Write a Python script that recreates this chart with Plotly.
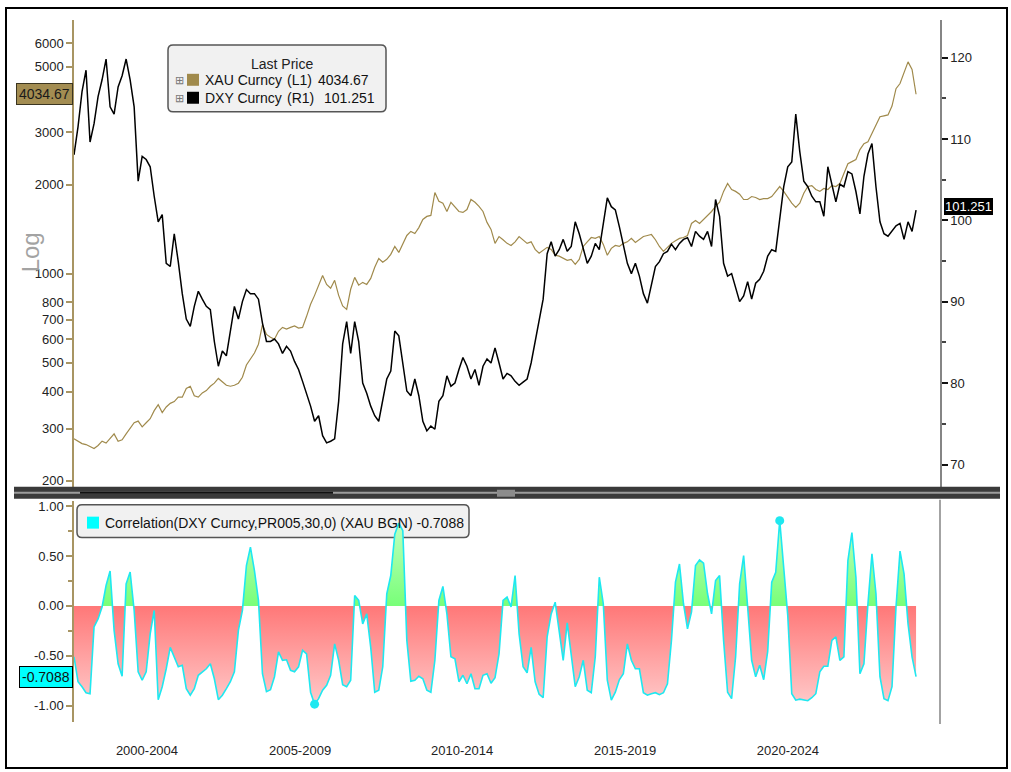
import numpy as np
import pandas as pd
import plotly.graph_objects as go

W, H = 1011, 772


def px(x):
    return x / W


def py(y):
    return 1 - y / H


# ---------------- data ----------------
dates = pd.date_range("2000-06-28", "2026-05-26", periods=211)

xau = [
    277, 272, 267, 265, 261, 257, 263, 272, 268, 279,
    288, 272, 275, 288, 300, 314, 318, 304, 314, 324,
    345, 361, 340, 355, 365, 370, 383, 383, 410, 417,
    387, 383, 396, 403, 417, 427, 443, 430, 420, 417,
    420, 427, 447, 492, 516, 540, 578, 673, 624, 610,
    601, 639, 659, 650, 659, 666, 655, 659, 718, 789,
    845, 920, 986, 920, 893, 950, 845, 778, 758, 886,
    972, 915, 935, 920, 964, 1051, 1125, 1093, 1118, 1162,
    1236, 1180, 1266, 1346, 1389, 1367, 1431, 1524, 1561, 1573,
    1880, 1755, 1730, 1622, 1742, 1675, 1622, 1610, 1647, 1780,
    1742, 1688, 1622, 1490, 1411, 1266, 1335, 1302, 1266, 1245,
    1281, 1335, 1302, 1266, 1281, 1208, 1172, 1199, 1227, 1208,
    1154, 1146, 1125, 1109, 1118, 1075, 1118, 1236, 1281, 1325,
    1316, 1335, 1256, 1154, 1218, 1245, 1236, 1266, 1281, 1316,
    1275, 1302, 1335, 1346, 1356, 1302, 1236, 1190, 1227, 1266,
    1292, 1316, 1325, 1346, 1478, 1512, 1478, 1524, 1561, 1622,
    1688, 1742, 1896, 2016, 1924, 1896, 1856, 1780, 1780, 1822,
    1809, 1780, 1793, 1793, 1822, 1896, 1969, 1896, 1809, 1730,
    1675, 1730, 1868, 1969, 1984, 1924, 1896, 1939, 1924, 1984,
    1969, 2016, 2178, 2352, 2390, 2428, 2624, 2748, 2789, 2968,
    3185, 3387, 3411, 3436, 3681, 4214, 4385, 4806, 5190, 4892, 4034.67,
]

dxy = [
    108.06, 111.50, 115.81, 118.46, 109.63, 111.89, 115.22, 117.28, 119.83, 113.95,
    113.06, 116.40, 117.77, 119.83, 117.28, 113.95, 104.83, 107.87, 107.48, 106.59,
    102.97, 99.83, 100.71, 94.73, 94.34, 98.36, 94.93, 91.00, 87.87, 86.99,
    89.44, 91.30, 90.32, 89.44, 89.04, 85.12, 82.08, 83.95, 83.36, 86.40,
    89.44, 87.87, 90.02, 91.50, 91.00, 91.00, 90.32, 87.38, 85.12, 85.12,
    85.42, 84.83, 83.65, 84.53, 83.95, 82.67, 81.69, 80.22, 78.75, 77.18,
    75.32, 76.00, 73.55, 72.67, 72.87, 73.16, 77.77, 84.83, 87.57, 83.65,
    87.57, 85.12, 80.02, 78.75, 77.18, 76.00, 75.32, 78.06, 80.51, 81.50,
    86.40, 85.81, 82.48, 79.04, 78.46, 80.51, 78.46, 75.32, 74.14, 74.73,
    74.34, 77.77, 78.46, 80.91, 79.63, 80.02, 81.69, 83.16, 82.08, 80.51,
    81.69, 79.73, 82.08, 82.97, 82.48, 84.34, 82.48, 80.51, 81.20, 80.91,
    80.22, 79.73, 80.12, 80.51, 82.48, 85.12, 87.57, 90.32, 95.91, 97.38,
    95.61, 96.40, 97.67, 96.20, 96.79, 99.83, 98.36, 96.40, 94.73, 95.61,
    97.18, 96.40, 99.63, 102.77, 101.69, 101.30, 99.24, 96.79, 94.73, 93.46,
    94.73, 93.16, 91.00, 89.83, 92.28, 94.34, 94.93, 95.91, 96.20, 97.08,
    96.40, 97.18, 97.67, 97.87, 96.79, 98.65, 98.06, 97.67, 98.65, 96.79,
    102.57, 100.51, 94.73, 93.16, 93.46, 91.89, 90.02, 90.71, 92.48, 90.32,
    92.28, 92.77, 93.75, 95.61, 96.40, 96.20, 100.51, 104.14, 106.59, 107.18,
    113.06, 108.46, 104.83, 104.14, 102.97, 102.28, 102.28, 100.51, 106.59, 104.53,
    102.28, 104.44, 104.14, 106.00, 105.71, 103.55, 100.81, 105.42, 108.16, 109.44,
    104.14, 99.83, 98.36, 98.06, 98.65, 99.34, 99.63, 97.67, 99.83, 98.65, 101.251,
]

corr = [
    -0.51, -0.76, -0.81, -0.87, -0.88, -0.21, -0.13, -0.01, 0.205, 0.35,
    -0.245, -0.58, -0.705, 0.22, 0.34, -0.045, -0.66, -0.745, -0.66, -0.28,
    -0.045, -0.94, -0.81, -0.63, -0.415, -0.51, -0.61, -0.595, -0.83, -0.895,
    -0.83, -0.695, -0.66, -0.63, -0.58, -0.73, -0.94, -0.895, -0.83, -0.76,
    -0.66, -0.245, -0.045, 0.405, 0.59, 0.355, 0.055, -0.68, -0.86, -0.84,
    -0.71, -0.46, -0.545, -0.54, -0.645, -0.66, -0.61, -0.445, -0.48, -0.865,
    -0.985, -0.93, -0.845, -0.795, -0.695, -0.38, -0.545, -0.79, -0.81, -0.745,
    0.105, 0.055, -0.18, -0.08, -0.415, -0.865, -0.845, -0.61, 0.12, 0.305,
    0.72, 0.83, 0.755, -0.345, -0.755, -0.745, -0.705, -0.73, -0.845, -0.865,
    -0.545, 0.055, 0.195, -0.08, -0.51, -0.53, -0.76, -0.695, -0.78, -0.68,
    -0.83, -0.83, -0.695, -0.68, -0.775, -0.72, -0.48, 0.055, 0.088, -0.01,
    0.305, -0.28, -0.61, -0.67, -0.415, -0.76, -0.885, -0.92, -0.31, -0.08,
    0.038, -0.28, -0.545, -0.17, -0.48, -0.81, -0.71, -0.545, -0.845, -0.87,
    -0.51, 0.288, 0.022, -0.745, -0.945, -0.865, -0.74, -0.68, -0.38, -0.545,
    -0.63, -0.63, -0.87, -0.895, -0.88, -0.87, -0.89, -0.87, -0.78, -0.345,
    0.238, 0.42, 0.022, -0.23, -0.06, 0.405, 0.462, 0.428, 0.122, -0.08,
    0.255, 0.305, -0.345, -0.865, -0.93, -0.51, 0.222, 0.505, -0.01, -0.545,
    -0.71, -0.595, -0.74, -0.455, 0.238, 0.338, 0.855, 0.405, -0.095, -0.88,
    -0.945, -0.935, -0.94, -0.95, -0.92, -0.88, -0.66, -0.605, -0.605, -0.345,
    -0.31, -0.545, -0.51, 0.455, 0.735, 0.288, -0.68, -0.58, 0.022, 0.522,
    0.122, -0.71, -0.93, -0.95, -0.81, -0.01, 0.55, 0.322, -0.18, -0.51, -0.7088,
]

x_tickvals = ["2002-09-26", "2007-06-12", "2012-06-07", "2017-06-12", "2022-06-16"]
x_ticktext = ["2000-2004", "2005-2009", "2010-2014", "2015-2019", "2020-2024"]
xau_ticks = [200, 300, 400, 500, 600, 700, 800, 1000, 2000, 3000, 5000, 6000]
dxy_ticks = [70, 80, 90, 100, 110, 120]
corr_ticks = [-1.0, -0.5, 0.0, 0.5, 1.0]
corr_ticktext = ["-1.00", "-0.50", "0.00", "0.50", "1.00"]

# ---------------- styles ----------------
FONT = "Liberation Sans"
GOLD = "#a08a4c"
AXGOLD = "#a89563"
CYAN = "#1fe8f0"
TXT = "#222222"

fig = go.Figure()

fig.add_trace(go.Scatter(x=dates, y=xau, mode="lines", name="XAU Curncy",
                         line=dict(color=GOLD, width=1.2), xaxis="x", yaxis="y"))
fig.add_trace(go.Scatter(x=dates, y=dxy, mode="lines", name="DXY Curncy",
                         line=dict(color="#000000", width=1.5), xaxis="x", yaxis="y2"))
fig.add_trace(go.Scatter(
    x=dates, y=corr, mode="lines", name="Correlation", fill="tozeroy",
    fillgradient=dict(type="vertical", start=-1.1, stop=1.1,
                      colorscale=[[0.0, "#ffd3d3"], [0.5, "#ff7878"],
                                  [0.5, "#78ff78"], [1.0, "#d6ffd6"]]),
    line=dict(color=CYAN, width=1.6), xaxis="x2", yaxis="y3"))

imin = int(np.argmin(corr))
imax = int(np.argmax(corr))
fig.add_trace(go.Scatter(x=[dates[imin], dates[imax]], y=[corr[imin], corr[imax]],
                         mode="markers", marker=dict(color=CYAN, size=9),
                         xaxis="x2", yaxis="y3"))

xdom = [px(74), px(940)]
fig.update_layout(
    width=W, height=H, margin=dict(l=0, r=0, t=0, b=0),
    paper_bgcolor="white", plot_bgcolor="rgba(0,0,0,0)", showlegend=False,
    font=dict(family=FONT, size=13, color=TXT),
    xaxis=dict(domain=xdom, anchor="y", range=["2000-06-28", "2027-02-19"],
               showticklabels=False, showgrid=False, zeroline=False, showline=False, ticks=""),
    xaxis2=dict(domain=xdom, anchor="y3", matches="x", tickmode="array",
                tickvals=x_tickvals, ticktext=x_ticktext, ticks="", showgrid=False,
                zeroline=False, showline=False, ticklabelstandoff=19,
                tickfont=dict(family=FONT, size=13, color=TXT)),
    yaxis=dict(domain=[py(488), py(18)], anchor="x", type="log",
               range=[2.27409, 3.8566], tickmode="array", tickvals=xau_ticks,
               ticktext=[str(v) for v in xau_ticks], showline=True, linecolor=AXGOLD,
               linewidth=1.5, ticks="outside", tickcolor=AXGOLD, ticklen=6, tickwidth=2,
               showgrid=False, zeroline=False, tickfont=dict(family=FONT, size=13, color=TXT)),
    yaxis2=dict(overlaying="y", anchor="x", side="right", range=[67.03, 124.63],
                tickmode="array", tickvals=dxy_ticks, showline=True, linecolor="#858585",
                linewidth=1.5, ticks="outside", tickcolor="#111111", ticklen=6, tickwidth=2,
                minor=dict(tick0=0, dtick=5, ticks="outside", ticklen=4, tickcolor="#444444"),
                showgrid=False, zeroline=False, tickfont=dict(family=FONT, size=13, color=TXT)),
    yaxis3=dict(domain=[py(722), py(500)], anchor="x2", range=[-1.165, 1.055],
                tickmode="array", tickvals=corr_ticks, ticktext=corr_ticktext,
                showline=True, linecolor=AXGOLD, linewidth=1.5, ticks="outside",
                tickcolor=AXGOLD, ticklen=6, tickwidth=2,
                minor=dict(tick0=0, dtick=0.25, ticks="outside", ticklen=4, tickcolor=AXGOLD),
                showgrid=False, zeroline=False, tickfont=dict(family=FONT, size=13, color=TXT)),
)


def rrect(x0, y0, x1, y1, r):
    X0, X1 = px(x0), px(x1)
    Y0, Y1 = py(y0), py(y1)
    rx, ry = r / W, r / H
    return (f"M {X0 + rx},{Y0} L {X1 - rx},{Y0} Q {X1},{Y0} {X1},{Y0 - ry} "
            f"L {X1},{Y1 + ry} Q {X1},{Y1} {X1 - rx},{Y1} L {X0 + rx},{Y1} "
            f"Q {X0},{Y1} {X0},{Y1 + ry} L {X0},{Y0 - ry} Q {X0},{Y0} {X0 + rx},{Y0} Z")


def box(x0, y0, x1, y1, color, layer="above", line=None):
    return dict(type="rect", xref="paper", yref="paper", x0=px(x0), x1=px(x1),
                y0=py(y1), y1=py(y0), fillcolor=color, layer=layer,
                line=line if line else dict(width=0))


shapes = [
    # legend boxes
    dict(type="path", xref="paper", yref="paper", path=rrect(168, 43, 386, 110, 5),
         fillcolor="#f1f1f1", line=dict(color="#555555", width=1.5), layer="below"),
    box(187, 72, 199, 84, GOLD, "below"),
    box(187, 90, 199, 102, "#000000", "below"),
    dict(type="path", xref="paper", yref="paper", path=rrect(77, 504, 469, 537, 5),
         fillcolor="#f1f1f1", line=dict(color="#555555", width=1.5), layer="below"),
    box(87, 516, 99, 528, "#00ffff", "below"),
    # panel divider
    box(14, 486, 1000, 498, "#3a3a3a"),
    box(14, 491, 1000, 493, "#9c9c9c"),
    box(80, 491, 333, 493, "#111111"),
    box(497, 489, 515, 496, "#8c8c8c"),
    # right axis line of lower panel
    dict(type="line", xref="paper", yref="paper", x0=px(940), x1=px(940),
         y0=py(724), y1=py(499), line=dict(color="#858585", width=1.5)),
    # outer frame
    dict(type="rect", xref="paper", yref="paper", x0=px(6), x1=px(1007),
         y0=py(768), y1=py(6), line=dict(color="#000000", width=2)),
]

ann = []


def txt(x, y, s, size=14, color="#111111", xanchor="left", **kw):
    ann.append(dict(xref="paper", yref="paper", x=px(x), y=py(y), text=s, showarrow=False,
                    xanchor=xanchor, yanchor="middle", font=dict(family=FONT, size=size, color=color),
                    **kw))


# top legend
txt(282, 62, "Last Price", 14, "#222222", "center")
txt(179, 78, "⊞", 11, "#777777", "center")
txt(179, 96, "⊞", 11, "#777777", "center")
txt(203, 78, "XAU Curncy")
txt(285, 78, "(L1)")
txt(371, 78, f"{xau[-1]:.2f}", xanchor="right")
txt(203, 96, "DXY Curncy")
txt(285, 96, "(R1)")
txt(377, 96, f"{dxy[-1]:.3f}", xanchor="right")
# lower legend
txt(103, 522, f"Correlation(DXY Curncy,PR005,30,0) (XAU BGN) {corr[-1]:.4f}", 14)
# Log label
txt(30, 251, "Log", 24, "#a3a3a3", "center", textangle=-90)

# last value flags
ann.append(dict(xref="paper", yref="y", x=px(73), y=float(np.log10(xau[-1])),
                text=f"{xau[-1]:.2f}", showarrow=False, xanchor="right", yanchor="middle",
                bgcolor="#a38d52", bordercolor="#3b3520", borderwidth=1, borderpad=2,
                font=dict(family=FONT, size=14, color="#1a1a1a")))
ann.append(dict(xref="paper", yref="y2", x=px(944), y=dxy[-1], yshift=4,
                text=f"{dxy[-1]:.3f}", showarrow=False, xanchor="left", yanchor="middle",
                bgcolor="#000000", bordercolor="#000000", borderwidth=1, borderpad=0,
                font=dict(family=FONT, size=13, color="#ffffff")))
ann.append(dict(xref="paper", yref="y3", x=px(73), y=corr[-1],
                text=f"{corr[-1]:.4f}", showarrow=False, xanchor="right", yanchor="middle",
                bgcolor="#00ffff", bordercolor="#000000", borderwidth=1, borderpad=2,
                font=dict(family=FONT, size=14, color="#111111")))

fig.update_layout(shapes=shapes, annotations=ann)

fig.write_html("out.html")
